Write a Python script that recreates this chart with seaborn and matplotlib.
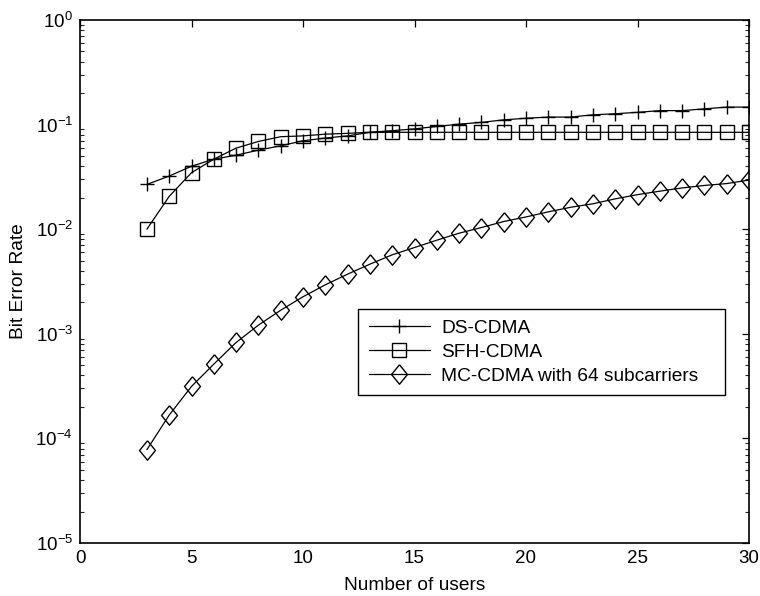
import numpy as np
import pandas as pd
import matplotlib
matplotlib.use("Agg")
import matplotlib.pyplot as plt
import matplotlib.ticker as mticker
import seaborn as sns

users = list(range(3, 31))
ds_cdma = [0.0268, 0.0322, 0.040, 0.0467, 0.051, 0.057, 0.0627, 0.070, 0.0744, 0.078,
           0.0844, 0.0875, 0.091, 0.096, 0.101, 0.105, 0.111, 0.115, 0.118, 0.118,
           0.124, 0.127, 0.131, 0.136, 0.136, 0.1415, 0.147, 0.147]
sfh_cdma = [0.010, 0.0206, 0.0347, 0.0467, 0.0596, 0.069, 0.0766, 0.078, 0.081, 0.0825,
            0.0844, 0.0844, 0.0844, 0.0844, 0.0844, 0.0844, 0.0844, 0.0844, 0.0844, 0.0844,
            0.0844, 0.0844, 0.0844, 0.0844, 0.0844, 0.0844, 0.0844, 0.0844]
mc_cdma = [7.8e-5, 1.67e-4, 3.14e-4, 5.13e-4, 8.26e-4, 1.21e-3, 1.68e-3, 2.26e-3, 2.94e-3, 3.72e-3,
           4.63e-3, 5.69e-3, 6.68e-3, 7.85e-3, 9.16e-3, 0.01037, 0.01184, 0.0131, 0.01465, 0.0162,
           0.0175, 0.0195, 0.0214, 0.0231, 0.0248, 0.0262, 0.0273, 0.0295]
series_names = ["DS-CDMA", "SFH-CDMA", "MC-CDMA with 64 subcarriers"]
x_ticks = [0, 5, 10, 15, 20, 25, 30]

sns.set_theme(style="white")
plt.rcParams["font.family"] = ["Liberation Sans", "DejaVu Sans"]
plt.rcParams["mathtext.default"] = "regular"
plt.rcParams["text.color"] = "black"
plt.rcParams["axes.labelcolor"] = "black"

df = pd.DataFrame({
    "users": users * 3,
    "ber": ds_cdma + sfh_cdma + mc_cdma,
    "series": [series_names[0]] * len(users) + [series_names[1]] * len(users) + [series_names[2]] * len(users),
})

fig = plt.figure(figsize=(7.6, 5.96), dpi=100)
ax = fig.add_axes([80 / 760, 1 - 543 / 596, 669 / 760, 523 / 596])

diamond = [(0, 1), (0.82, 0), (0, -1), (-0.82, 0), (0, 1)]
styles = {
    series_names[0]: dict(marker="+", markersize=10),
    series_names[1]: dict(marker="s", markersize=9.5, markerfacecolor="none"),
    series_names[2]: dict(marker=diamond, markersize=14, markerfacecolor="none"),
}
for name in series_names:
    sub = df[df["series"] == name]
    sns.lineplot(data=sub, x="users", y="ber", ax=ax, color="black", linewidth=0.9,
                 label=name, markeredgewidth=1.0, markeredgecolor="black", **styles[name])

ax.set_yscale("log")
ax.set_xlim(0, 30)
ax.set_ylim(1e-5, 1)
ax.set_xticks(x_ticks)
ax.set_xticklabels([str(t) for t in x_ticks])
ax.yaxis.set_major_locator(mticker.LogLocator(base=10, numticks=10))
ax.yaxis.set_minor_locator(mticker.LogLocator(base=10, subs=np.arange(2, 10), numticks=20))
ax.yaxis.set_major_formatter(mticker.LogFormatterMathtext())
ax.yaxis.set_minor_formatter(mticker.NullFormatter())

ax.tick_params(axis="both", which="major", direction="in", length=5, width=0.9,
               top=True, right=True, labelsize=13.5, colors="black", pad=5)
ax.tick_params(axis="y", which="minor", direction="in", length=3, width=0.8,
               left=True, right=True)
for s in ax.spines.values():
    s.set_color("black")
    s.set_linewidth(1.2)

ax.set_xlabel("Number of users", fontsize=13.8, color="black", labelpad=7)
ax.set_ylabel("Bit Error Rate", fontsize=13.8, color="black", labelpad=6)
ax.grid(False)

leg = ax.legend(loc="upper left", bbox_to_anchor=(0.4155, 0.281, 0.5485, 0.166),
                mode="expand", fontsize=13.8, labelcolor="black",
                frameon=True, fancybox=False, edgecolor="black", framealpha=1,
                handlelength=3.2, borderpad=0.55, labelspacing=0.33, handletextpad=0.6,
                borderaxespad=0)
leg.get_frame().set_linewidth(1.0)

fig.savefig("out.png", dpi=100)
